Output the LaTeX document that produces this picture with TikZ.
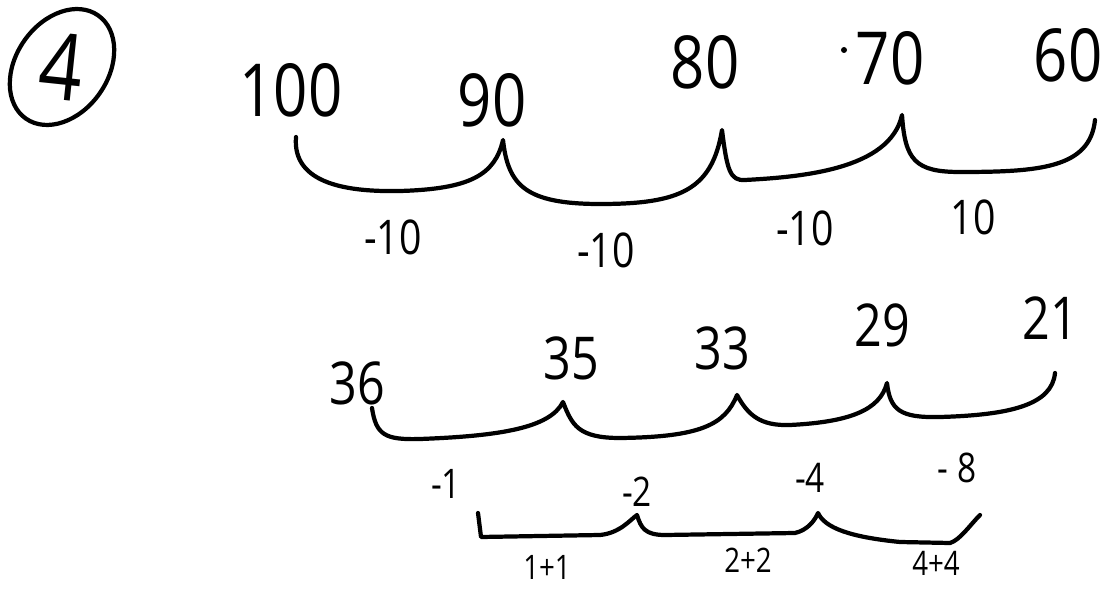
\documentclass[tikz,border=0pt]{standalone}
\usepackage{fontspec}
\setmainfont{Open Sans}[FakeStretch=0.82]
\begin{document}
\begin{tikzpicture}[x=0.025cm, y=-0.025cm,
    pen/.style={line width=3pt, line cap=round, line join=round},
    bignum/.style={font=\fontsize{52}{52}\selectfont, inner sep=0pt},
    midnum/.style={font=\fontsize{42}{42}\selectfont, inner sep=0pt},
    stepnum/.style={font=\fontsize{34}{34}\selectfont, inner sep=0pt},
    smallnum/.style={font=\fontsize{29}{29}\selectfont, inner sep=0pt},
    tinynum/.style={font=\fontsize{24}{24}\selectfont, inner sep=0pt}]
  \useasboundingbox (0,0) rectangle (1112,590);

  % exercise number
  \node[font=\fontsize{66}{66}\selectfont, inner sep=0pt, rotate=-6] (ex) at (62,67) {4};
  \draw[pen, rotate around={-35:(ex.center)}] (ex.center) ellipse [x radius=46, y radius=63];

  % first row: 100 down to 60
  \node[bignum] (n100) at (291,90) {100};
  \node[bignum] (n90) at (492,100) {90};
  \node[bignum] (n80) at (705,62) {80};
  \node[bignum] (n70) at (890,58) {70};
  \node[bignum] (n60) at (1068,55) {60};
  \fill (844,50) circle (3);

  \coordinate (b1a) at (296,137);
  \coordinate (c11) at (503,140);
  \coordinate (c12) at (722,130);
  \coordinate (c13) at (902,115);
  \coordinate (b1e) at (1095,120);
  \draw[pen] (b1a) .. controls (292,185) and (350,192) .. (400,191)
    .. controls (470,189) and (495,175) .. (c11)
    .. controls (508,185) and (525,204) .. (600,204)
    .. controls (680,204) and (712,190) .. (c12)
    .. controls (727,170) and (730,181) .. (745,180)
    .. controls (800,177) and (890,170) .. (c13)
    .. controls (905,160) and (915,172) .. (960,172)
    .. controls (1040,172) and (1090,168) .. (b1e);

  \node[stepnum] (s1) at (393,237) {-10};
  \node[stepnum] (s2) at (606,250) {-10};
  \node[stepnum] (s3) at (805,228) {-10};
  \node[stepnum] (s4) at (973,217) {10};

  % second row: 36 down to 21
  \node[midnum] (m36) at (357,383) {36};
  \node[midnum] (m35) at (571,358) {35};
  \node[midnum] (m33) at (722,348) {33};
  \node[midnum] (m29) at (882,325) {29};
  \node[midnum] (m21) at (1050,318) {21};

  \coordinate (b2a) at (372,408);
  \coordinate (c21) at (563,402);
  \coordinate (c22) at (737,395);
  \coordinate (c23) at (887,383);
  \coordinate (b2e) at (1055,373);
  \draw[pen] (b2a) .. controls (376,435) and (385,440) .. (420,439)
    .. controls (500,436) and (550,428) .. (c21)
    .. controls (572,425) and (578,438) .. (620,438)
    .. controls (700,437) and (725,425) .. (c22)
    .. controls (748,415) and (760,426) .. (790,425)
    .. controls (850,422) and (880,410) .. (c23)
    .. controls (890,410) and (900,418) .. (940,417)
    .. controls (1010,415) and (1052,405) .. (b2e);

  \node[smallnum] (d1) at (446,484) {-1};
  \node[smallnum] (d2) at (637,492) {-2};
  \node[smallnum] (d4) at (810,478) {-4};
  \node[smallnum] (d8) at (957,468) {- 8};

  % third row: differences double
  \coordinate (b3a) at (478,513);
  \coordinate (c31) at (637,515);
  \coordinate (c32) at (818,513);
  \coordinate (b3e) at (980,515);
  \draw[pen] (b3a) -- (481,537) -- (600,535)
    .. controls (620,533) and (630,520) .. (c31)
    .. controls (641,528) and (645,535) .. (665,535) -- (795,533)
    .. controls (808,530) and (815,520) .. (c32)
    .. controls (825,528) and (850,537) .. (900,542) -- (950,543)
    .. controls (960,540) and (970,525) .. (b3e);

  \node[tinynum] (e1) at (547,567) {1+1};
  \node[tinynum] (e2) at (748,560) {2+2};
  \node[tinynum] (e4) at (936,563) {4+4};
\end{tikzpicture}
\end{document}
